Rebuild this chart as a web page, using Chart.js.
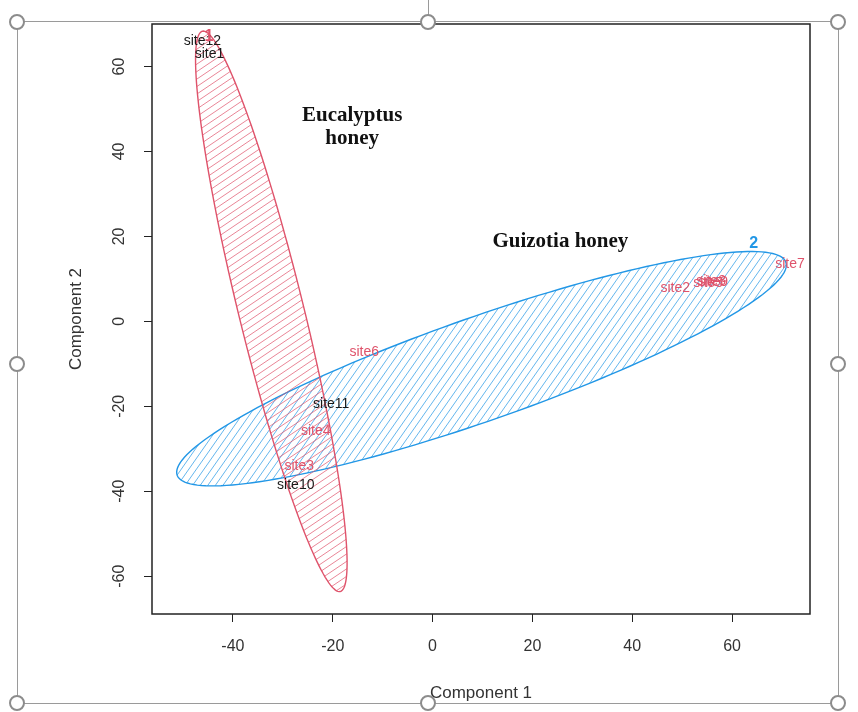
<!DOCTYPE html>
<html>
<head>
<meta charset="utf-8">
<script src="https://cdn.jsdelivr.net/npm/chart.js@4.4.1/dist/chart.umd.min.js"></script>
<style>
  html, body { margin: 0; padding: 0; background: #fff; }
</style>
</head>
<body>
<canvas id="chart" width="858" height="712"></canvas>
<script>
// site labels (component scores)
const siteNames = ["site1", "site2", "site3", "site4", "site5", "site6", "site7", "site8", "site9", "site10", "site11", "site12"];
const siteX = [-44.7, 48.6, -26.7, -23.4, 55.2, -13.7, 71.6, 55.8, 56.2, -27.4, -20.3, -46.1];
const siteY = [62.8, 7.7, -34.0, -25.8, 8.9, -7.2, 13.5, 9.4, 9.2, -38.5, -19.5, 65.9];
const siteColor = ["#1a1a1a", "#df536b", "#df536b", "#df536b", "#df536b", "#df536b", "#df536b", "#df536b", "#df536b", "#1a1a1a", "#1a1a1a", "#1a1a1a"];

// cluster ellipses: centre plus two semi-axis vectors, data units
const clusterNames = ["1", "2"];
const clusterCx = [-32.3, 9.8];
const clusterCy = [2.35, -11.15];
const clusterMajX = [-13.8, 60.96];
const clusterMajY = [65.96, 25.07];
const clusterMinX = [6.32, 3.44];
const clusterMinY = [1.82, -11.52];
const clusterLabX = [-44.8, 64.3];
const clusterLabY = [67.1, 18.2];
const clusterColor = ["#df536b", "#2297e6"];
const hatchAngle = [34, 55];

// text notes
const noteText = ["Eucalyptus", "honey", "Guizotia honey"];
const noteX = [-16.1, -16.1, 25.6];
const noteY = [48.4, 43.0, 18.7];

const xTicks = [-40, -20, 0, 20, 40, 60];
const yTicks = [-60, -40, -20, 0, 20, 40, 60];

const sansFont = "'Liberation Sans', Arial, sans-serif";

const ellipsePlugin = {
  id: "ellipses",
  beforeDatasetsDraw(chart) {
    const ctx = chart.ctx;
    const xs = chart.scales.x;
    const ys = chart.scales.y;
    const area = chart.chartArea;
    ctx.save();
    ctx.beginPath();
    ctx.rect(area.left, area.top, area.right - area.left, area.bottom - area.top);
    ctx.clip();
    for (let i = clusterNames.length - 1; i >= 0; i--) {
      const cx = xs.getPixelForValue(clusterCx[i]);
      const cy = ys.getPixelForValue(clusterCy[i]);
      const ax = xs.getPixelForValue(clusterCx[i] + clusterMajX[i]) - cx;
      const ay = ys.getPixelForValue(clusterCy[i] + clusterMajY[i]) - cy;
      const bx = xs.getPixelForValue(clusterCx[i] + clusterMinX[i]) - cx;
      const by = ys.getPixelForValue(clusterCy[i] + clusterMinY[i]) - cy;

      const path = new Path2D();
      const steps = 180;
      for (let k = 0; k <= steps; k++) {
        const t = (k / steps) * Math.PI * 2;
        const px = cx + ax * Math.cos(t) + bx * Math.sin(t);
        const py = cy + ay * Math.cos(t) + by * Math.sin(t);
        if (k === 0) path.moveTo(px, py); else path.lineTo(px, py);
      }
      path.closePath();

      // hatching
      ctx.save();
      ctx.clip(path);
      const r = Math.hypot(ax, ay) + Math.hypot(bx, by);
      const th = hatchAngle[i] * Math.PI / 180;
      const dx = Math.cos(th), dy = -Math.sin(th);
      const nx = Math.sin(th), ny = Math.cos(th);
      ctx.strokeStyle = clusterColor[i];
      ctx.globalAlpha = 0.7;
      ctx.lineWidth = 1;
      ctx.beginPath();
      for (let s = -r; s <= r; s += 6.2) {
        ctx.moveTo(cx + nx * s - dx * r, cy + ny * s - dy * r);
        ctx.lineTo(cx + nx * s + dx * r, cy + ny * s + dy * r);
      }
      ctx.stroke();
      ctx.restore();

      ctx.strokeStyle = clusterColor[i];
      ctx.lineWidth = 1.4;
      ctx.stroke(path);
    }
    ctx.restore();
  },
  afterDatasetsDraw(chart) {
    const ctx = chart.ctx;
    const xs = chart.scales.x;
    const ys = chart.scales.y;
    const meta = chart.getDatasetMeta(0);
    ctx.save();
    ctx.textAlign = "center";
    ctx.textBaseline = "middle";
    ctx.font = "14px " + sansFont;
    meta.data.forEach((pt, i) => {
      ctx.fillStyle = siteColor[i];
      ctx.fillText(siteNames[i], pt.x, pt.y);
    });
    ctx.font = "bold 16px " + sansFont;
    clusterNames.forEach((c, i) => {
      ctx.fillStyle = clusterColor[i];
      ctx.fillText(c, xs.getPixelForValue(clusterLabX[i]), ys.getPixelForValue(clusterLabY[i]));
    });
    ctx.font = "bold 21px 'Liberation Serif', 'Times New Roman', serif";
    ctx.fillStyle = "#111";
    noteText.forEach((t, i) => {
      ctx.fillText(t, xs.getPixelForValue(noteX[i]), ys.getPixelForValue(noteY[i]));
    });
    ctx.restore();
  },
  afterDraw(chart) {
    const ctx = chart.ctx;
    const a = chart.chartArea;
    ctx.save();
    // plot box
    ctx.strokeStyle = "#222";
    ctx.lineWidth = 1.5;
    ctx.strokeRect(a.left, a.top, a.right - a.left, a.bottom - a.top);
    // selection frame round the picture
    ctx.strokeStyle = "#9a9a9a";
    ctx.lineWidth = 1;
    ctx.strokeRect(17.5, 21.5, 821, 682);
    ctx.beginPath();
    ctx.moveTo(428.5, 0);
    ctx.lineTo(428.5, 21);
    ctx.stroke();
    const handles = [[17, 22], [428, 22], [838, 22], [17, 364], [838, 364], [17, 703], [428, 703], [838, 703]];
    ctx.lineWidth = 2;
    ctx.strokeStyle = "#8c8c8c";
    ctx.fillStyle = "#fff";
    handles.forEach(([hx, hy]) => {
      ctx.beginPath();
      ctx.arc(hx, hy, 7, 0, Math.PI * 2);
      ctx.fill();
      ctx.stroke();
    });
    ctx.restore();
  }
};

const points = siteX.map((x, i) => ({ x: x, y: siteY[i] }));

new Chart(document.getElementById("chart"), {
  type: "scatter",
  data: {
    datasets: [{
      label: "sites",
      data: points,
      pointRadius: 0,
      pointHoverRadius: 0
    }]
  },
  options: {
    responsive: false,
    animation: false,
    devicePixelRatio: 1,
    layout: { padding: { left: 0, top: 24, right: 48, bottom: 0 } },
    plugins: {
      legend: { display: false },
      tooltip: { enabled: false }
    },
    scales: {
      x: {
        type: "linear",
        position: "bottom",
        min: -56.2,
        max: 75.6,
        afterBuildTicks: (s) => { s.ticks = xTicks.map((v) => ({ value: v })); },
        afterFit: (s) => { s.height = 98; },
        grid: { drawOnChartArea: false, tickLength: 8, color: "#222", lineWidth: 1 },
        border: { display: false },
        ticks: { color: "#333", padding: 15, maxRotation: 0, font: { family: sansFont, size: 16 } },
        title: { display: true, text: "Component 1", color: "#333", font: { family: sansFont, size: 17 }, padding: { top: 0, bottom: 8 } }
      },
      y: {
        type: "linear",
        position: "left",
        min: -68.9,
        max: 70.0,
        afterBuildTicks: (s) => { s.ticks = yTicks.map((v) => ({ value: v })); },
        afterFit: (s) => { s.width = 152; },
        grid: { drawOnChartArea: false, tickLength: 8, color: "#222", lineWidth: 1 },
        border: { display: false },
        ticks: { color: "#333", padding: 13, minRotation: 90, maxRotation: 90, crossAlign: "center", font: { family: sansFont, size: 16 } },
        title: { display: true, text: "Component 2", color: "#333", font: { family: sansFont, size: 17 }, padding: { top: 66, bottom: 0 } }
      }
    }
  },
  plugins: [ellipsePlugin]
});
</script>
</body>
</html>
